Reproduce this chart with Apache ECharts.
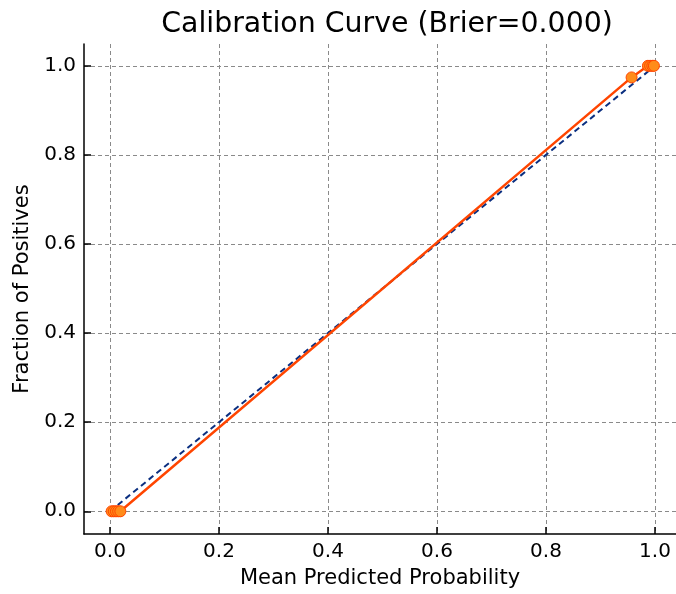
<!DOCTYPE html>
<html>
<head>
<meta charset="utf-8">
<script src="https://cdn.jsdelivr.net/npm/echarts@6/dist/echarts.min.js"></script>
<style>html,body{margin:0;padding:0;background:#fff}#c{width:676px;height:594px}</style>
</head>
<body>
<div id="c"></div>
<script>
const meanPredicted = [0.003, 0.007, 0.011, 0.015, 0.019, 0.957, 0.987, 0.991, 0.995, 0.998];
const fractionPositives = [0, 0, 0, 0, 0, 0.974, 1, 1, 1, 1];
const diagonalX = [0, 1];
const diagonalY = [0, 1];
const tickValues = [0, 0.2, 0.4, 0.6, 0.8, 1.0];
const titleText = 'Calibration Curve (Brier=0.000)';
const xLabel = 'Mean Predicted Probability';
const yLabel = 'Fraction of Positives';

const FONT = "'DejaVu Sans', sans-serif";
const chart = echarts.init(document.getElementById('c'), null, {renderer: 'canvas'});
const gridLine = {show: true, customValues: tickValues, lineStyle: {color: '#8a8a8a', type: [4, 3], width: 1}};
function axis(name, gap, min, max) {
  return {
    type: 'value', min: min, max: max,
    name: name, nameLocation: 'middle', nameGap: gap,
    nameTextStyle: {fontFamily: FONT, fontSize: 21, color: '#000'},
    axisLine: {show: true, onZero: false, lineStyle: {color: '#000', width: 1.5}},
    axisTick: {show: true, inside: true, length: 7, customValues: tickValues, lineStyle: {color: '#000', width: 1.5}},
    axisLabel: {customValues: tickValues, fontFamily: FONT, fontSize: 20, color: '#000', margin: 8,
      formatter: v => v.toFixed(1)},
    splitLine: gridLine
  };
}
chart.setOption({
  animation: false,
  backgroundColor: '#fff',
  title: {text: titleText, left: 382, top: 6, textAlign: 'center',
    textStyle: {fontFamily: FONT, fontSize: 28.4, fontWeight: 'normal', color: '#000'}},
  grid: {left: 84, right: 0, top: 44, bottom: 56, containLabel: false},
  xAxis: axis(xLabel, 34, -0.0477, 1.0385),
  yAxis: axis(yLabel, 51, -0.051, 1.049),
  series: [
    {type: 'line', data: diagonalX.map((x, i) => [x, diagonalY[i]]), symbol: 'none',
      lineStyle: {color: '#0b2f80', width: 2, type: [6, 4]}, z: 2},
    {type: 'line', data: meanPredicted.map((x, i) => [x, fractionPositives[i]]),
      symbol: 'circle', symbolSize: 11, showAllSymbol: true,
      lineStyle: {color: '#ff4500', width: 2.5},
      itemStyle: {color: '#ff8c1a', borderColor: '#ff4500', borderWidth: 1}, z: 3}
  ]
});
</script>
</body>
</html>
